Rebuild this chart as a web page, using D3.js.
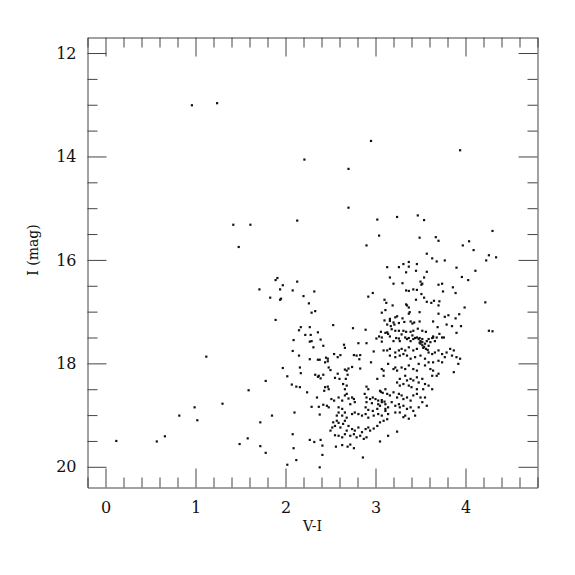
<!DOCTYPE html>
<html>
<head>
<meta charset="utf-8">
<script src="https://cdn.jsdelivr.net/npm/d3@7"></script>
<style>
  body { margin: 0; background: #fff; }
  svg text { font-family: "DejaVu Serif", "Liberation Serif", serif; fill: #111; }
</style>
</head>
<body>
<svg id="chart" width="575" height="575"></svg>
<script>
// axis ticks
const xTicks = [0, 1, 2, 3, 4]
const yTicks = [12, 14, 16, 18, 20]

// stars as [V-I, I]
const sparseStars = [
  [0.96,13.01],[1.24,12.97],[2.95,13.70],[3.94,13.88],[2.21,14.06],[2.70,14.24],[2.70,14.99],
  [1.42,15.32],[1.61,15.32],[2.13,15.24],[1.48,15.75],[3.02,15.22],[3.24,15.17],[3.47,15.14],
  [3.54,15.23],[3.04,15.53],[2.90,15.72],[3.49,15.57],[3.67,15.56],[3.70,15.63],[3.97,15.72],
  [4.04,15.64],[4.09,15.81],[4.30,15.44],[3.57,15.88],[3.63,15.97],[3.68,16.03],[3.77,16.01],
  [3.37,16.04],[4.23,16.01],[4.26,15.91],[4.34,15.95]
]

const leftBranch = [
  [1.91,16.35],[1.89,16.39],[1.71,16.57],[1.94,16.57],[1.97,16.49],[1.83,16.73],[1.95,16.75],
  [1.94,16.77],[1.89,17.16],[1.12,17.87],[1.97,18.09],[2.02,18.25],[1.78,18.34],[1.59,18.52],
  [1.30,18.78],[0.99,18.85],[0.82,19.01],[1.02,19.10],[1.85,19.01],[1.72,19.14],[0.12,19.50],
  [0.57,19.51],[0.66,19.41],[1.58,19.45],[1.49,19.56],[1.72,19.60],[1.78,19.73],[2.02,19.96],
  [2.13,16.42],[2.08,16.59],[2.20,16.70],[2.32,16.61],[2.26,16.84],[2.33,16.99],[2.29,17.02],
  [2.53,17.26],[2.17,17.30],[2.27,17.30],[2.15,17.36],[2.36,17.40],[2.22,17.45],[2.28,17.45],
  [2.09,17.55],[2.39,17.54],[2.75,17.32],[2.89,17.35],[2.92,16.71],[2.97,16.64],[3.10,16.77],
  [3.07,17.02],[3.10,17.17],[3.04,17.48],[3.01,17.52]
]

const redGiants = [
  [3.46,16.08],[3.31,16.08],[3.26,16.14],[3.37,16.13],[3.13,16.14],[3.45,16.21],[3.57,16.23],
  [3.34,16.24],[3.90,16.15],[4.11,16.21],[3.96,16.33],[4.03,16.39],[3.16,16.34],[3.54,16.34],
  [3.20,16.46],[3.30,16.45],[3.50,16.42],[3.52,16.46],[3.51,16.48],[3.70,16.48],[3.74,16.46],
  [3.86,16.53],[3.42,16.57],[3.34,16.59],[3.37,16.60],[3.46,16.58],[3.75,16.61],[3.89,16.64],
  [3.51,16.66],[3.12,16.83],[3.45,16.77],[3.54,16.73],[3.57,16.81],[3.62,16.83],[3.65,16.79],
  [3.71,16.80],[3.70,16.88],[3.19,16.88],[3.34,16.86],[3.35,16.88],[3.37,16.92],[3.11,16.97],
  [3.38,17.01],[3.49,17.01],[3.37,17.04],[3.99,16.92],[4.22,16.82],[3.70,17.04],[3.77,17.10],
  [3.81,17.07],[3.93,17.05],[3.89,17.13],[3.24,17.09],[3.16,17.14],[3.16,17.18],[3.22,17.11],
  [3.20,17.21],[3.30,17.13],[3.32,17.20],[3.26,17.22],[3.39,17.19],[3.41,17.23],[3.43,17.21],
  [3.49,17.19],[3.64,17.19],[3.69,17.30],[3.79,17.25],[3.85,17.28],[3.95,17.28],[3.90,17.41],
  [4.26,17.37],[4.30,17.38],[3.13,17.25],[3.17,17.28],[3.21,17.25],[3.06,17.39],[3.13,17.40],
  [3.18,17.34],[3.22,17.37],[3.26,17.37],[3.31,17.37],[3.34,17.39],[3.39,17.39],[3.42,17.37],
  [3.47,17.33],[3.52,17.37],[3.56,17.39],[3.63,17.51],[3.64,17.48],[3.71,17.43],[3.74,17.50],
  [3.59,17.53],[3.11,17.41],[3.14,17.43],[3.16,17.48],[3.23,17.51],[3.26,17.52],[3.29,17.44],
  [3.33,17.50],[3.37,17.51],[3.41,17.46],[3.44,17.51],[3.49,17.51],[3.52,17.53],
  [3.07,17.50],[3.20,17.57],[3.27,17.57],[3.35,17.53],[3.39,17.57],[3.42,17.53],[3.46,17.50],
  [3.48,17.53],[3.50,17.57],[3.52,17.59],[3.57,17.57],[3.61,17.59],[3.64,17.50],[3.66,17.57],
  [3.68,17.50],[3.76,17.50],[3.55,17.62],[3.59,17.66],[3.50,17.62],[3.52,17.65],[3.54,17.68],
  [3.49,17.60],[3.53,17.70],[3.56,17.72],[3.58,17.74]
]

const lowerGiants = [
  [3.09,17.75],[3.13,17.75],[3.16,17.72],[3.22,17.79],[3.26,17.75],[3.29,17.72],[3.33,17.75],
  [3.37,17.69],[3.42,17.75],[3.46,17.72],[3.59,17.79],[3.63,17.82],[3.66,17.79],[3.70,17.75],
  [3.74,17.82],[3.79,17.79],[3.83,17.72],[3.87,17.75],[3.90,17.88],[3.94,17.91],[3.92,18.01],
  [3.85,17.85],[3.77,17.88],[3.87,18.17],[3.16,17.85],[3.22,17.88],[3.27,17.85],[3.31,17.82],
  [3.35,17.85],[3.39,17.91],[3.44,17.88],[3.50,17.85],[3.55,17.91],[3.59,17.98],[3.64,17.98],
  [3.70,17.95],[3.74,17.98],[3.09,18.14],[3.14,18.01],[3.20,18.11],[3.22,18.08],[3.24,18.14],
  [3.29,18.08],[3.33,18.11],[3.37,18.04],[3.42,18.11],[3.48,18.01],[3.55,18.04],[3.61,18.11],
  [3.64,18.14],[3.68,18.24],[3.70,18.20],[3.63,18.24],[3.46,18.14],[3.09,18.24],[3.27,18.30],
  [3.33,18.24],[3.35,18.33],[3.39,18.30],[3.42,18.33],[3.46,18.27],[3.48,18.37],[3.52,18.30],
  [3.55,18.40],[3.59,18.43],[3.63,18.50],[3.53,18.50],[3.46,18.50],[3.40,18.46],[3.37,18.43],
  [3.31,18.40],[3.27,18.43],[3.24,18.37],[3.05,18.53],[3.11,18.50],[3.13,18.59],[3.16,18.62],
  [3.20,18.56],[3.24,18.66],[3.26,18.59],[3.29,18.62],[3.31,18.69],[3.35,18.66],[3.39,18.72],
  [3.42,18.62],[3.46,18.59],[3.50,18.66],[3.52,18.75],[3.55,18.66],[3.57,18.82],[3.07,18.75],
  [3.11,18.79],[3.14,18.85],[3.18,18.75],[3.22,18.82],[3.26,18.79],[3.27,18.85],[3.31,18.82],
  [3.35,18.88],[3.39,18.85],[3.42,18.92],[3.48,18.85],[3.44,19.01],[3.33,19.01],[3.27,18.95],
  [3.22,18.95],[3.14,18.98],[3.07,19.01],[3.11,18.92]
]

const faintStars = [
  [2.27,17.58],[2.29,17.57],[2.08,17.76],[2.42,17.66],[2.31,17.69],[2.15,17.85],[2.27,17.92],
  [2.36,17.93],[2.38,17.93],[2.45,17.89],[2.47,17.91],[2.44,17.98],[2.47,17.96],[2.54,17.82],
  [2.58,17.88],[2.61,17.84],[2.65,17.64],[2.66,17.70],[2.81,17.61],[2.90,17.61],[2.76,17.84],
  [2.79,17.85],[2.83,17.84],[2.82,17.92],[2.98,17.77],[3.07,17.58],[2.95,17.98],[2.16,18.08],
  [2.17,18.19],[2.48,18.08],[2.50,18.13],[2.66,18.12],[2.68,18.14],[2.70,18.10],[2.74,18.07],
  [2.83,18.10],[3.07,18.11],[2.33,18.22],[2.36,18.26],[2.39,18.29],[2.37,18.24],[2.42,18.22],
  [2.58,18.20],[2.55,18.28],[2.60,18.30],[2.69,18.22],[2.67,18.30],[3.02,18.30],[2.07,18.41],
  [2.12,18.45],[2.16,18.46],[2.24,18.56],[2.44,18.46],[2.47,18.45],[2.43,18.53],[2.48,18.50],
  [2.64,18.40],[2.68,18.43],[2.66,18.50],[2.90,18.45],[2.92,18.50],[3.06,18.55],[3.08,18.57],
  [2.35,18.66],[2.29,18.84],[2.37,18.84],[2.42,18.80],[2.46,18.82],[2.48,18.85],[2.51,18.69],
  [2.54,18.72],[2.59,18.66],[2.63,18.72],[2.66,18.62],[2.68,18.59],[2.70,18.68],[2.74,18.66],
  [2.76,18.69],[2.77,18.75],[2.72,18.79],[2.88,18.59],[2.90,18.66],[2.94,18.69],[2.97,18.66],
  [3.00,18.69],[3.03,18.72],[3.07,18.71],[3.10,18.74],[2.90,18.75],[2.96,18.77],[3.03,18.79],
  [2.59,18.85],[2.63,18.88],[2.66,18.95],[2.59,18.95],[2.57,19.01],[2.63,19.01],[2.68,19.05],
  [2.74,18.98],[2.77,18.95],[2.81,18.98],[2.85,19.01],[2.89,18.98],[2.92,19.05],[2.98,19.01],
  [3.03,18.98],[3.02,18.88],[3.05,18.82],[3.11,18.88],[2.89,18.85],[2.92,18.90],[2.97,18.92],
  [2.10,18.95],[2.38,18.99],[2.08,19.37],[2.09,19.64],[2.12,19.87],[2.27,19.48],[2.32,19.52],
  [2.39,19.48],[2.41,19.59],[2.41,19.77],[2.38,20.01],[2.56,19.61],[2.63,19.58],[2.69,19.61],
  [2.72,19.57],[2.76,19.64],[2.86,19.82],[3.05,19.51],[3.14,19.40],[3.24,19.32],[2.50,19.30],
  [2.52,19.24],[2.55,19.21],[2.59,19.15],[2.61,19.24],[2.64,19.17],[2.66,19.11],[2.57,19.11],
  [2.53,19.14],[2.70,19.21],[2.68,19.30],[2.74,19.27],[2.77,19.30],[2.81,19.24],[2.85,19.33],
  [2.89,19.27],[2.92,19.24],[2.94,19.30],[2.98,19.26],[3.02,19.21],[3.05,19.14],[3.09,19.11],
  [3.13,19.08],[2.66,19.37],[2.72,19.40],[2.76,19.37],[2.79,19.43],[2.83,19.40],[2.87,19.46],
  [2.90,19.43],[2.59,19.40],[2.55,19.39],[2.63,19.43],[3.31,19.04],[3.37,19.07]
]

const stars = [].concat(sparseStars, leftBranch, redGiants, lowerGiants, faintStars)

let svg = d3.select("#chart")

let plot = { left: 87.5, right: 537.5, top: 37.5, bottom: 487.5 }

let x = d3.scaleLinear().domain([-0.2, 4.8]).range([plot.left, plot.right])
let y = d3.scaleLinear().domain([11.7, 20.4]).range([plot.top, plot.bottom])

const majorLen = 19
const minorLen = 10
const xMinor = d3.range(-0.2, 4.81, 0.2).map(d => +d.toFixed(1)).filter(d => !xTicks.includes(d))
const yMinor = d3.range(12, 20.41, 0.5).filter(d => !yTicks.includes(d))

function drawAxis(axisFn, scale, translate, ticks, minor, labels, padding) {
    let g = svg.append("g").attr("transform", translate)
    g.call(axisFn(scale).tickValues(ticks).tickSizeInner(-majorLen).tickSizeOuter(0)
        .tickPadding(padding).tickFormat(labels ? d3.format("d") : ""))
    svg.append("g").attr("transform", translate)
        .call(axisFn(scale).tickValues(minor).tickSizeInner(-minorLen).tickSizeOuter(0).tickFormat(""))
        .call(s => s.select(".domain").remove())
    return g
}

drawAxis(d3.axisBottom, x, `translate(0,${plot.bottom})`, xTicks, xMinor, true, 14)
drawAxis(d3.axisTop, x, `translate(0,${plot.top})`, xTicks, xMinor, false, 0)
drawAxis(d3.axisLeft, y, `translate(${plot.left},0)`, yTicks, yMinor, true, 11)
drawAxis(d3.axisRight, y, `translate(${plot.right},0)`, yTicks, yMinor, false, 0)

svg.selectAll(".domain, .tick line").attr("stroke", "#444").attr("stroke-width", 1)
svg.selectAll(".tick text").attr("font-size", 16).attr("font-family", "DejaVu Serif").attr("fill", "#111")

// star markers
svg.append("g")
    .selectAll("rect")
    .data(stars)
    .join("rect")
    .attr("x", d => x(d[0]) - 1.1)
    .attr("y", d => y(d[1]) - 1.1)
    .attr("width", 2.2)
    .attr("height", 2.2)
    .attr("fill", "#111")

// axis titles
svg.append("text")
    .attr("x", (plot.left + plot.right) / 2)
    .attr("y", 531)
    .attr("text-anchor", "middle")
    .attr("font-size", 14)
    .text("V-I")

svg.append("text")
    .attr("transform", "translate(38,250) rotate(-90)")
    .attr("text-anchor", "middle")
    .attr("font-size", 14)
    .text("I (mag)")
</script>
</body>
</html>
